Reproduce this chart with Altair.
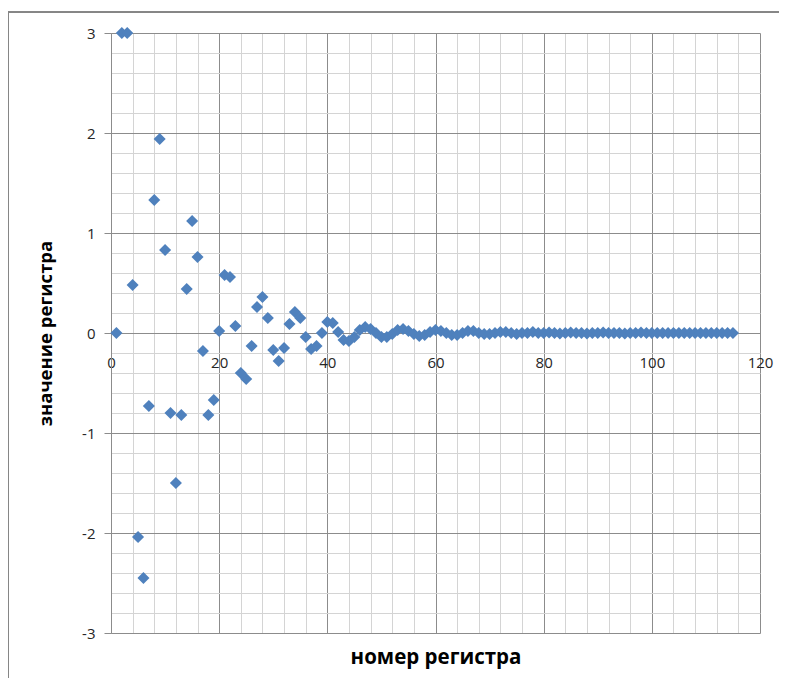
import altair as alt
import pandas as pd

# register number and register value
reg_index = list(range(1, 116))
reg_value = [
    0.00, 3.00, 3.00, 0.48, -2.04, -2.45, -0.73, 1.33, 1.94, 0.83,
    -0.80, -1.50, -0.82, 0.44, 1.12, 0.76, -0.18, -0.82, -0.67, 0.02,
    0.58, 0.56, 0.07, -0.40, -0.46, -0.13, 0.26, 0.36, 0.15, -0.17,
    -0.28, -0.15, 0.09, 0.21, 0.15, -0.04, -0.16, -0.13, 0.00, 0.11,
    0.10, 0.01, -0.07, -0.08, -0.04, 0.03, 0.06, 0.04, 0.00, -0.04,
    -0.04, -0.01, 0.03, 0.04, 0.02, -0.01, -0.03, -0.02, 0.01, 0.03,
    0.02, 0.00, -0.02, -0.02, 0.00, 0.02, 0.02, 0.00, -0.01, -0.01,
    0.00, 0.01, 0.01, 0.00, -0.01, 0.00, 0.00, 0.01, 0.00, 0.00,
    0.005, 0.00, -0.005, 0.00, 0.005, 0.00, 0.00, -0.005, 0.00, 0.00,
    0.005, 0.00, 0.00, 0.00, -0.005, 0.00, 0.00, 0.005, 0.00, 0.00,
    0.00, 0.00, 0.00, 0.00, 0.00, 0.00, 0.00, 0.00, 0.00, 0.00,
    0.00, 0.00, 0.00, 0.00, 0.00,
]

x_grid_values = list(range(0, 121, 4))
y_grid_values = [round(-3 + 0.2 * i, 1) for i in range(31)]

df = pd.DataFrame({"n": reg_index, "v": reg_value})

MINOR = "#d4d4d4"
MAJOR = "#8c8c8c"
FONT = "Open Sans"
IS_INT = "abs(datum.value - round(datum.value)) < 1e-6"

points = alt.Chart(df).mark_point(
    shape="diamond", filled=True, size=145, color="#4F81BD", opacity=1
).encode(
    x=alt.X(
        "n:Q",
        scale=alt.Scale(domain=[0, 120], nice=False, zero=False),
        axis=alt.Axis(
            values=x_grid_values,
            labelExpr="datum.value % 20 == 0 ? '' + datum.value : ''",
            offset=-300,
            ticks=False,
            labelPadding=22,
            labelFont=FONT,
            labelFontSize=15,
            labelColor="#262626",
            labelFlush=False,
            labelOverlap=False,
            domainColor=MAJOR,
            gridColor={
                "condition": {"test": "datum.value % 20 == 0", "value": MAJOR},
                "value": MINOR,
            },
            title="номер регистра",
            titleFont=FONT,
            titleFontSize=20.5,
            titleFontWeight="bold",
            titleColor="#000000",
            titleX=324.5,
            titleY=324,
            titleAlign="center",
            titleBaseline="middle",
        ),
    ),
    y=alt.Y(
        "v:Q",
        scale=alt.Scale(domain=[-3, 3], nice=False, zero=False),
        axis=alt.Axis(
            values=y_grid_values,
            labelExpr=IS_INT + " ? '' + round(datum.value) : ''",
            tickSize=7,
            tickColor={
                "condition": {"test": IS_INT, "value": MAJOR},
                "value": "rgba(0,0,0,0)",
            },
            labelPadding=9,
            labelFont=FONT,
            labelFontSize=15,
            labelColor="#262626",
            labelFlush=False,
            labelOverlap=False,
            domainColor=MAJOR,
            gridColor={
                "condition": {"test": IS_INT, "value": MAJOR},
                "value": MINOR,
            },
            title="значение регистра",
            titleFont=FONT,
            titleFontSize=18.5,
            titleFontWeight="bold",
            titleColor="#000000",
            titleX=-66,
            titleY=300,
            titleAngle=270,
            titleAlign="center",
            titleBaseline="middle",
        ),
    ),
)

border_left = alt.Chart(df).mark_rule(color="#868686", strokeWidth=1).encode(
    x=alt.value(-102.5), y=alt.value(-21), y2=alt.value(700)
)
border_top = alt.Chart(df).mark_rule(color="#868686", strokeWidth=1).encode(
    x=alt.value(-102.5), x2=alt.value(700), y=alt.value(-21)
)

chart = (
    alt.layer(border_left, border_top, points)
    .properties(
        width=649,
        height=600,
        autosize=alt.AutoSizeParams(type="none"),
        padding={"left": 103, "top": 25, "right": 19, "bottom": 45},
        background="white",
    )
    .configure_view(stroke=None)
)

chart.save("out.html", embed_options={"renderer": "svg", "actions": False})
